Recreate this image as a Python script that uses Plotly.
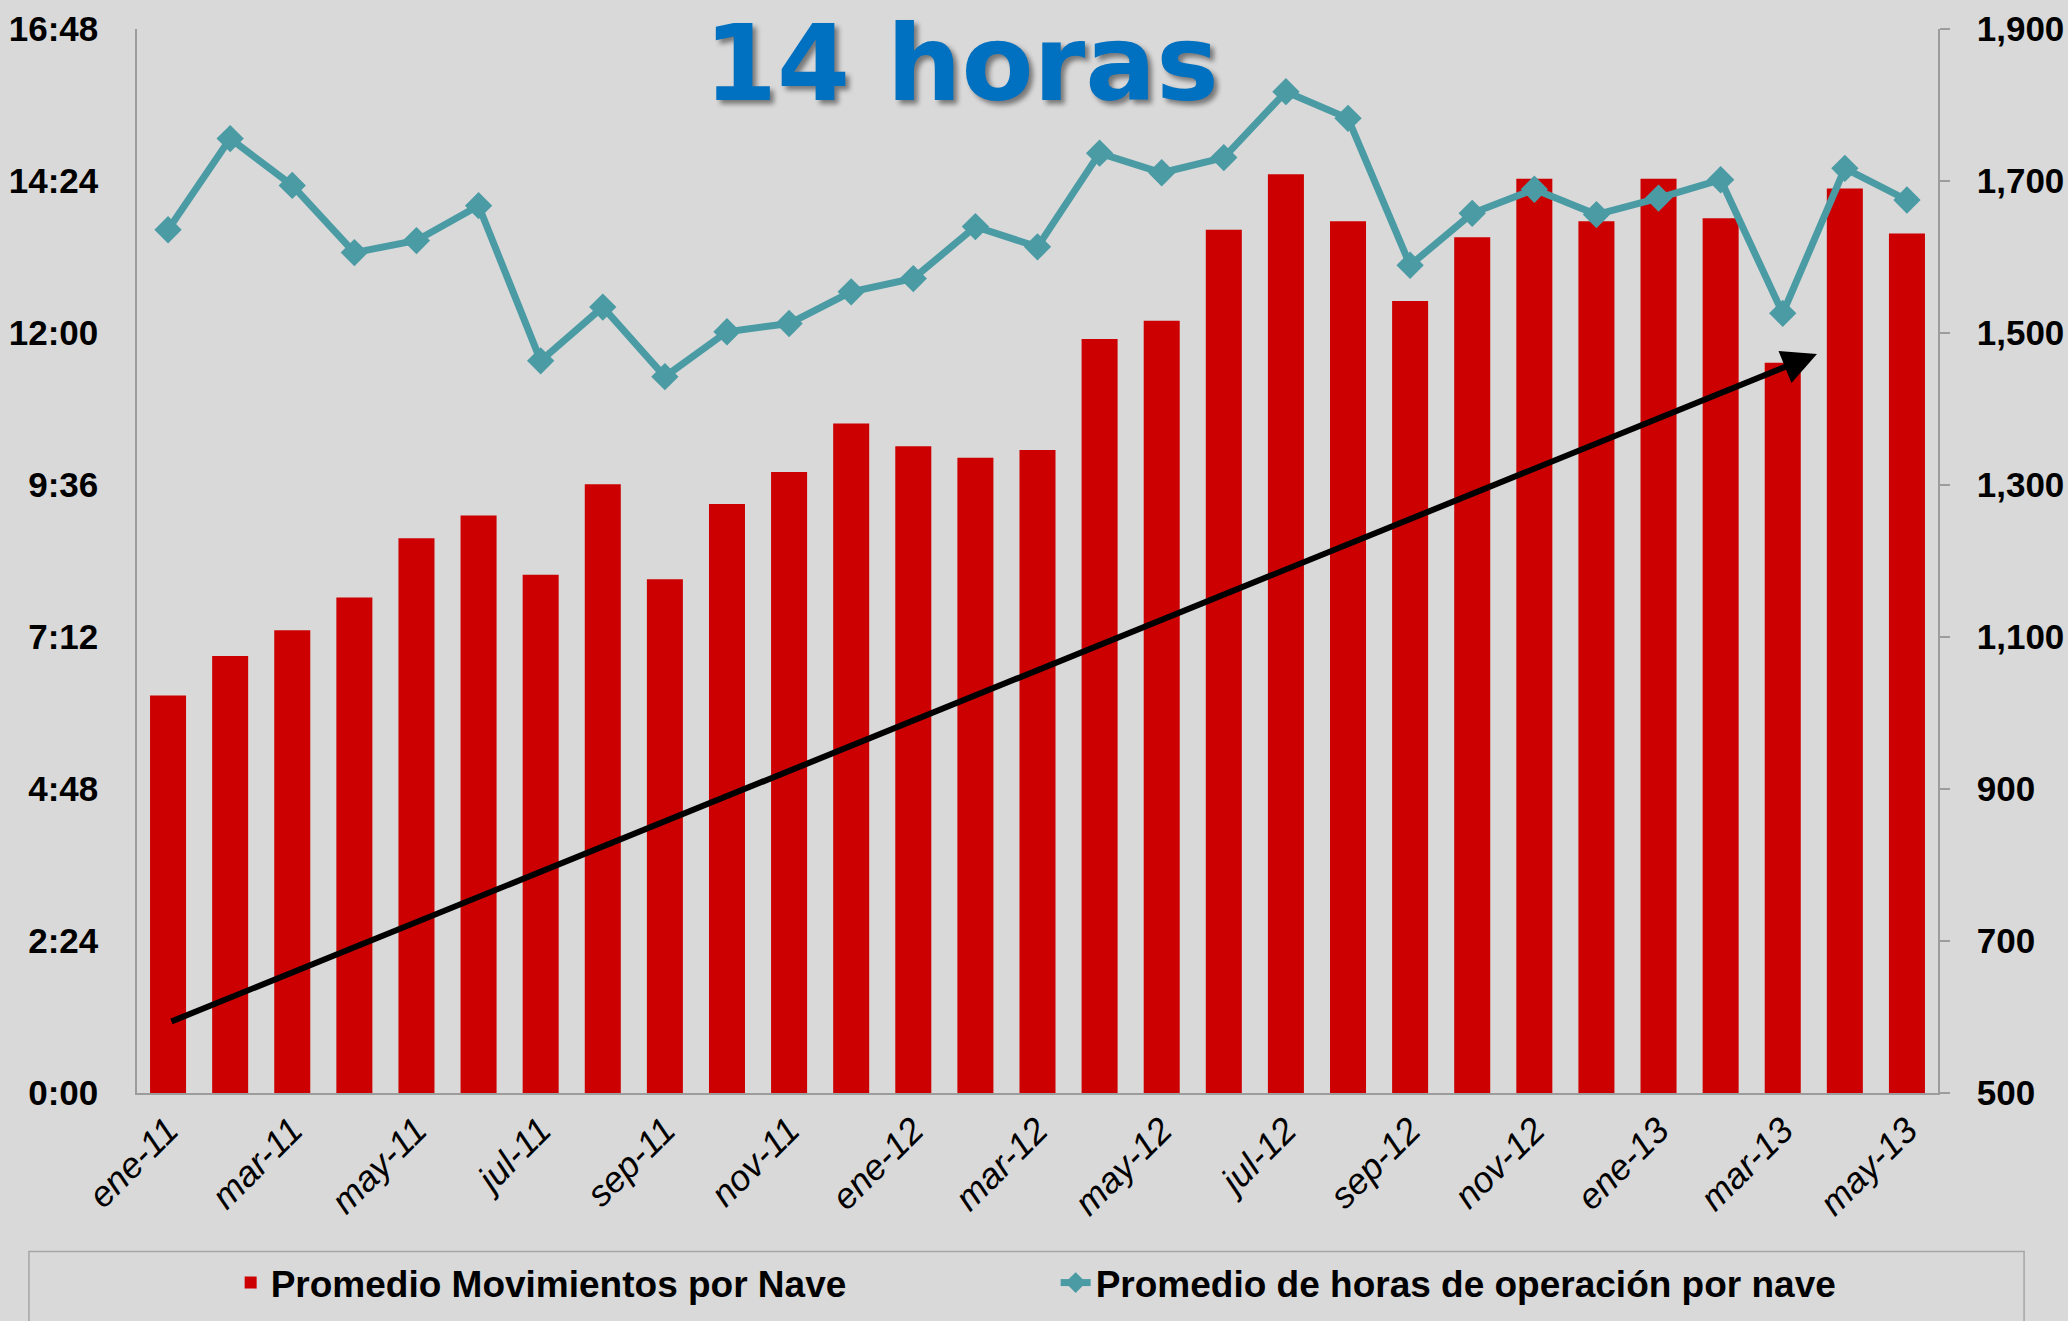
import plotly.graph_objects as go

months = ["ene-11", "feb-11", "mar-11", "abr-11", "may-11", "jun-11", "jul-11", "ago-11",
          "sep-11", "oct-11", "nov-11", "dic-11",
          "ene-12", "feb-12", "mar-12", "abr-12", "may-12", "jun-12", "jul-12", "ago-12",
          "sep-12", "oct-12", "nov-12", "dic-12",
          "ene-13", "feb-13", "mar-13", "abr-13", "may-13"]

movimientos = [1023, 1075, 1109, 1152, 1230, 1260, 1182, 1301, 1176, 1275, 1317, 1381,
               1351, 1336, 1346, 1492, 1516, 1636, 1709, 1647, 1542, 1626, 1703, 1647,
               1703, 1651, 1461, 1690, 1631]

# hours (decimal) of operation per ship
horas = [13.63, 15.07, 14.33, 13.27, 13.46, 14.01, 11.56, 12.41, 11.31, 12.02, 12.15, 12.65,
         12.86, 13.68, 13.36, 14.84, 14.53, 14.77, 15.81, 15.39, 13.07, 13.89, 14.27, 13.87,
         14.13, 14.42, 12.31, 14.60, 14.10]

x_ticks = ["ene-11", "mar-11", "may-11", "jul-11", "sep-11", "nov-11", "ene-12", "mar-12",
           "may-12", "jul-12", "sep-12", "nov-12", "ene-13", "mar-13", "may-13"]

time_tickvals = [0, 2.4, 4.8, 7.2, 9.6, 12.0, 14.4, 16.8]
time_ticktext = ["0:00", "2:24", "4:48", "7:12", "9:36", "12:00", "14:24", "16:48"]

mov_tickvals = [500, 700, 900, 1100, 1300, 1500, 1700, 1900]
mov_ticktext = ["500", "700", "900", "1,100", "1,300", "1,500", "1,700", "1,900"]

BG = "#D9D9D9"
RED = "#CC0000"
TEAL = "#4A9BA4"
AXIS = "#9C9C9C"
FONT = "Liberation Sans, Arial, sans-serif"

fig = go.Figure()

fig.add_trace(go.Bar(
    x=months, y=movimientos, name="Promedio Movimientos por Nave",
    marker=dict(color=RED, line=dict(width=0)), yaxis="y",
))

fig.add_trace(go.Scatter(
    x=months, y=horas, name="Promedio de horas de operación por nave",
    mode="lines+markers", yaxis="y2",
    line=dict(color=TEAL, width=7),
    marker=dict(symbol="diamond", size=21, color=TEAL),
))

fig.update_layout(
    width=2068, height=1321,
    paper_bgcolor=BG, plot_bgcolor=BG,
    margin=dict(l=137, r=130, t=29, b=228, autoexpand=False),
    bargap=0.42,
    font=dict(family=FONT, color="black"),
    showlegend=True,
    legend=dict(
        orientation="h", x=0.052, y=-0.1786, xanchor="left", yanchor="middle",
        xref="paper", yref="paper",
        font=dict(family=FONT, size=37, weight="bold", color="black"),
        bgcolor="rgba(0,0,0,0)", entrywidth=780, entrywidthmode="pixels",
        traceorder="normal",
    ),
    xaxis=dict(
        type="category", categoryorder="array", categoryarray=months,
        tickmode="array", tickvals=x_ticks, ticktext=x_ticks, automargin=False,
        tickangle=-45, tickfont=dict(family=FONT, size=36, style="italic", color="black"),
        showline=True, linecolor=AXIS, linewidth=1.5, ticks="", showgrid=False,
        zeroline=False, range=[-0.5, len(months) - 0.5],
    ),
    yaxis=dict(
        side="right", range=[500, 1900], tickmode="array", automargin=False,
        tickvals=mov_tickvals, ticktext=mov_ticktext,
        tickfont=dict(family=FONT, size=35, weight="bold", color="black"),
        showline=True, linecolor=AXIS, linewidth=1.5, ticks="outside", ticklen=10,
        tickcolor=AXIS, tickwidth=1.5, showgrid=False, zeroline=False,
        ticklabelstandoff=20,
    ),
    yaxis2=dict(
        side="left", overlaying="y", range=[0, 16.8], tickmode="array", automargin=False,
        tickvals=time_tickvals, ticktext=time_ticktext,
        tickfont=dict(family=FONT, size=35, weight="bold", color="black"),
        showline=True, linecolor=AXIS, linewidth=1.5, ticks="", showgrid=False,
        zeroline=False, ticklabelstandoff=30,
    ),
    shapes=[
        dict(type="rect", xref="paper", yref="paper",
             x0=-0.06, x1=1.0478, y0=-0.149, y1=-0.26,
             line=dict(color="#A6A6A6", width=1.5), fillcolor="rgba(0,0,0,0)", layer="below"),
    ],
    annotations=[
        dict(text="14 horas", xref="paper", yref="paper", x=0.458, y=1.0265,
             xanchor="center", yanchor="top", showarrow=False,
             font=dict(family="DejaVu Sans", size=105, weight="bold", color="#0070C0",
                       shadow="4px 4px 5px rgba(0,0,0,0.45)")),
        dict(text="", xref="x domain", yref="y domain", axref="x domain", ayref="y domain",
             x=0.9328, y=0.6945, ax=0.0183, ay=0.0667, showarrow=True,
             arrowhead=2, arrowsize=1.15, arrowwidth=6, arrowcolor="black"),
    ],
)

fig.write_html("out.html", config={"displayModeBar": False},
               post_script="document.body.style.margin='0';document.body.style.overflow='hidden';")
